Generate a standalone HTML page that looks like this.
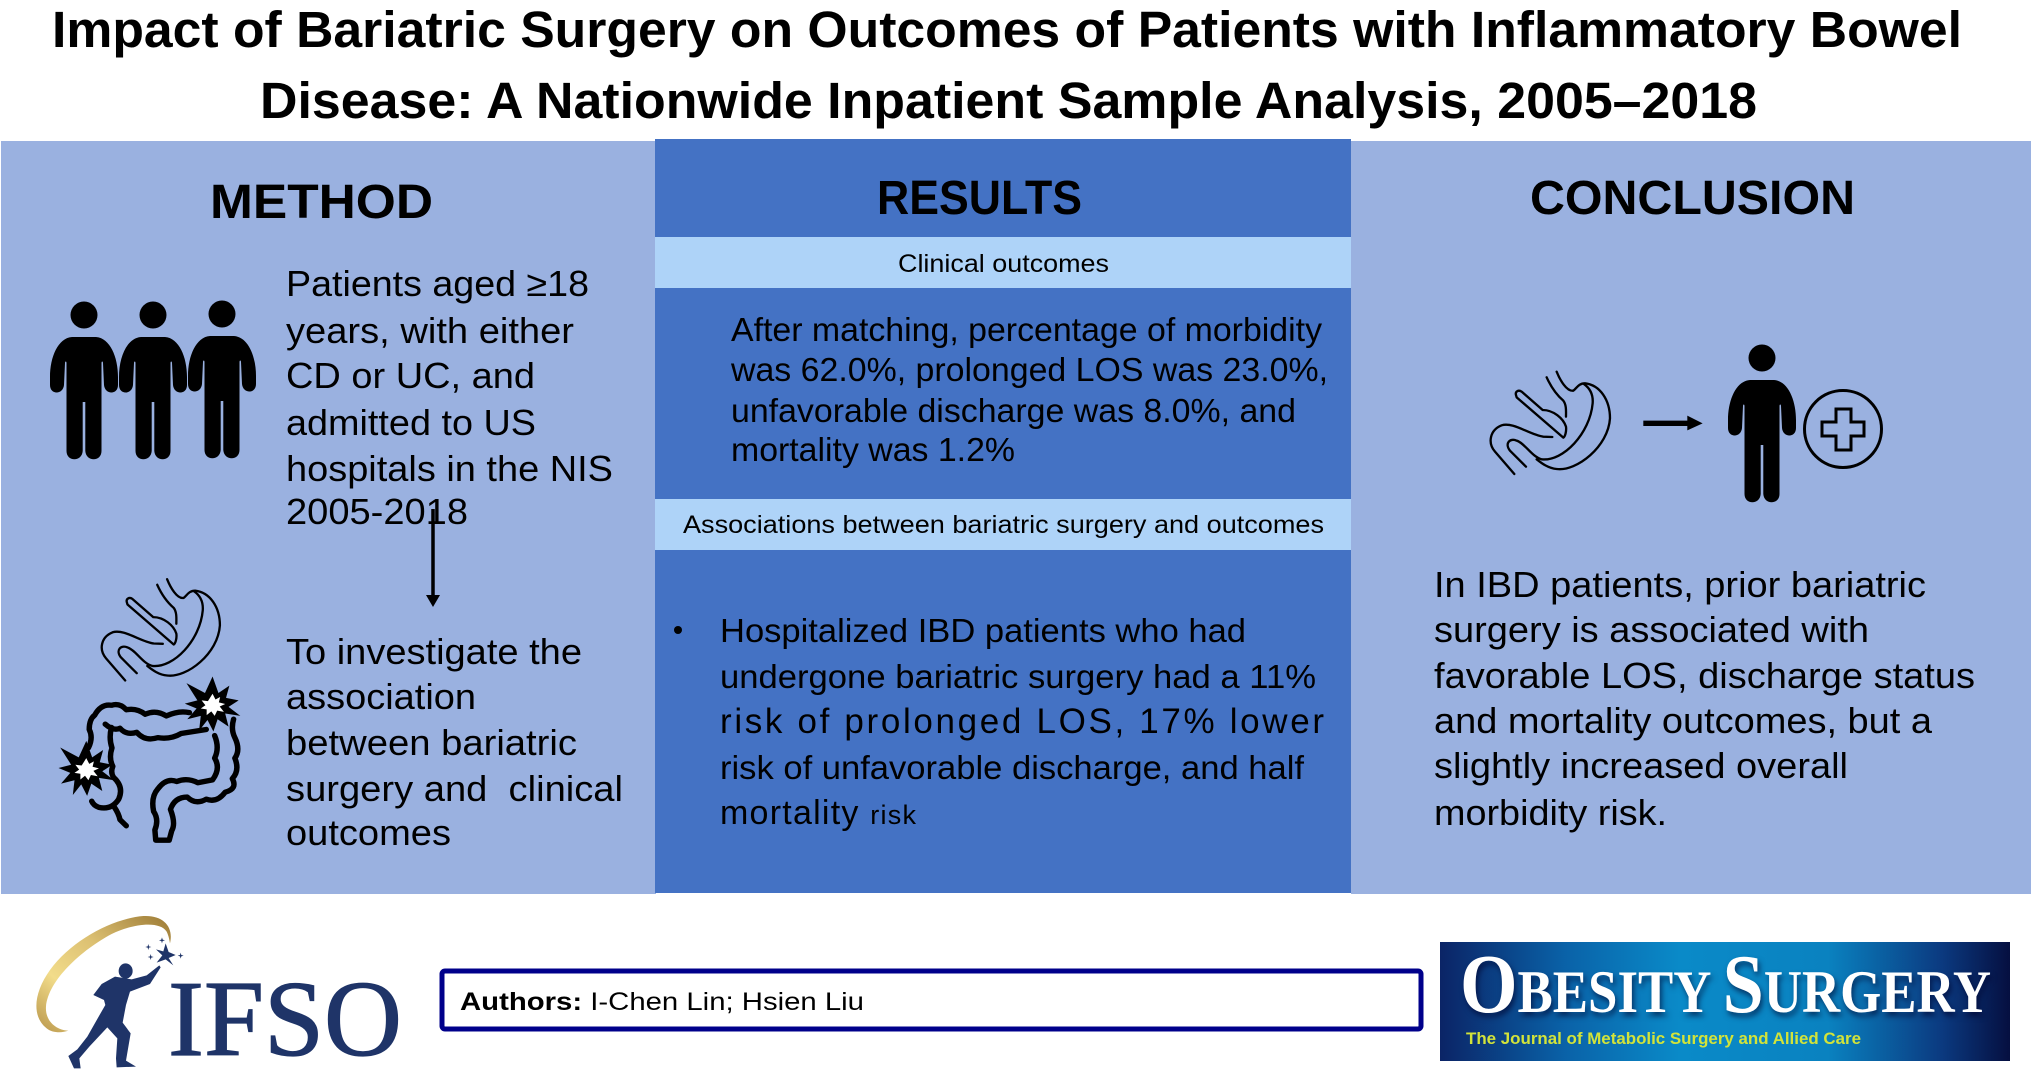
<!DOCTYPE html>
<html lang="en"><head><meta charset="utf-8"><title>Bariatric Surgery and IBD Outcomes</title>
<style>
html,body{margin:0;padding:0;background:#fff;width:2031px;height:1072px;overflow:hidden}
svg{display:block}
text{font-family:"Liberation Sans",sans-serif;fill:#000}
.t{font-weight:700;font-size:51px}
.h{font-weight:700;font-size:48px}
.a{font-size:36px}
.c{font-size:33px}
.b{font-size:33px}
.s{font-size:25px}
.ic{fill:none;stroke:#000;stroke-linecap:round;stroke-linejoin:round}
</style></head><body>
<svg width="2031" height="1072" viewBox="0 0 2031 1072" xmlns="http://www.w3.org/2000/svg">
<defs>
<linearGradient id="gold" x1="0" y1="1" x2="1" y2="0"><stop offset="0" stop-color="#b8954a"/><stop offset=".3" stop-color="#f2dc8a"/><stop offset=".6" stop-color="#dcc072"/><stop offset="1" stop-color="#9c7a35"/></linearGradient>
<linearGradient id="journal" x1="0" y1="0" x2="1" y2="0"><stop offset="0" stop-color="#0b2466"/><stop offset=".22" stop-color="#0a62a8"/><stop offset=".42" stop-color="#0a8ac8"/><stop offset=".68" stop-color="#0a82c0"/><stop offset=".88" stop-color="#0b3a80"/><stop offset="1" stop-color="#050f40"/></linearGradient>
<g id="person">
<circle cx="0" cy="-22" r="13.5"/>
<path d="M-12,0 C-26,1 -34,20 -34,40 L-34,48 C-34,58 -21,58 -20,48 L-19,26 C-19,24 -17.5,24 -17.5,26 L-17.5,114 C-17.5,125 -2,125 -1.3,114 L-1.3,65 L1.3,65 L1.3,114 C2,125 17.5,125 17.5,114 L17.5,26 C17.5,24 19,24 19,26 L20,48 C21,58 34,58 34,48 L34,40 C34,20 26,1 12,0 Z"/>
</g>
<g id="stomach" class="ic" stroke-width="7">
<path d="M343,462 L285,395 C262,368 270,330 305,316 C340,305 390,345 430,350 L457,351"/>
<path d="M378,440 L330,392 C313,370 330,353 350,362 C375,370 395,410 425,418 C490,425 570,340 578,250 C580,225 570,205 552,192"/>
<path d="M470,155 C480,180 500,215 520,212 C530,205 535,190 555,190 C600,195 630,240 630,295 C625,380 530,455 470,447 C445,445 425,430 410,418"/>
<path d="M440,172 C455,205 470,225 490,242 C500,255 498,275 498,290"/>
<path d="M348,225 C345,215 355,208 365,215 L428,270 C460,270 490,295 498,320 C500,335 495,350 490,353 L350,232 Z"/>
</g>
<g id="burst">
<polygon fill="#000" points="0,-72 14,-32 40,-50 32,-20 62,-14 38,2 66,24 30,18 38,50 12,32 2,62 -12,34 -32,60 -28,24 -60,32 -38,6 -66,-6 -36,-14 -62,-56 -18,-32"/>
<polygon fill="#fff" points="0,-30 7,-16 18,-22 15,-9 30,-5 17,1 27,14 11,11 5,24 -3,13 -14,22 -14,8 -28,6 -17,-2 -26,-14 -11,-12"/>
</g>
<polygon id="star-small" fill="#1f3468" points="0,-9 2,-2 9,0 2,2 0,9 -2,2 -9,0 -2,-2"/>
</defs>

<rect width="2031" height="1072" fill="#fff"/>
<text class="t" x="52" y="47" textLength="1910" lengthAdjust="spacingAndGlyphs">Impact of Bariatric Surgery on Outcomes of Patients with Inflammatory Bowel</text>
<text class="t" x="260" y="118" textLength="1497" lengthAdjust="spacingAndGlyphs">Disease: A Nationwide Inpatient Sample Analysis, 2005–2018</text>

<rect x="1" y="141" width="655" height="753" fill="#9ab1e0"/>
<rect x="1351" y="141" width="680" height="753" fill="#9ab1e0"/>
<rect x="655" y="139" width="696" height="754" fill="#4472c4"/>
<rect x="655" y="237" width="696" height="51" fill="#aed3f8"/>
<rect x="655" y="499" width="696" height="51" fill="#aed3f8"/>

<text class="h" x="210" y="218" textLength="223" lengthAdjust="spacingAndGlyphs">METHOD</text>
<text class="h" x="877" y="214" textLength="205" lengthAdjust="spacingAndGlyphs">RESULTS</text>
<text class="h" x="1530" y="214" textLength="325" lengthAdjust="spacingAndGlyphs">CONCLUSION</text>

<g>
<text class="a" x="286" y="296" textLength="303" lengthAdjust="spacingAndGlyphs">Patients aged ≥18</text>
<text class="a" x="286" y="343" textLength="288" lengthAdjust="spacingAndGlyphs">years, with either</text>
<text class="a" x="286" y="388" textLength="249" lengthAdjust="spacingAndGlyphs">CD or UC, and</text>
<text class="a" x="286" y="435" textLength="250" lengthAdjust="spacingAndGlyphs">admitted to US</text>
<text class="a" x="286" y="481" textLength="327" lengthAdjust="spacingAndGlyphs">hospitals in the NIS</text>
<text class="a" x="286" y="524" textLength="182" lengthAdjust="spacingAndGlyphs">2005-2018</text>
</g>
<g>
<text class="a" x="286" y="664" textLength="296" lengthAdjust="spacingAndGlyphs">To investigate the</text>
<text class="a" x="286" y="709" textLength="190" lengthAdjust="spacingAndGlyphs">association</text>
<text class="a" x="286" y="755" textLength="291" lengthAdjust="spacingAndGlyphs">between bariatric</text>
<text class="a" x="286" y="801" textLength="337" lengthAdjust="spacingAndGlyphs" xml:space="preserve">surgery and  clinical</text>
<text class="a" x="286" y="845" textLength="165" lengthAdjust="spacingAndGlyphs">outcomes</text>
</g>

<g fill="#000">
<use href="#person" transform="translate(84,337)"/>
<use href="#person" transform="translate(153,337)"/>
<use href="#person" transform="translate(222,336)"/>
</g>

<g>
<line x1="433" y1="509" x2="433" y2="597" stroke="#000" stroke-width="3.5"/>
<polygon points="426,595 440,595 433,607" fill="#000"/>
</g>

<g transform="translate(12,528) scale(.33)">
<use href="#stomach"/>
</g>

<g transform="translate(0,260) scale(.4209,.41)">
<g class="ic" stroke-width="13">
<path d="M210,1190 Q222,1165 212,1145 Q212,1120 225,1110 Q240,1082 265,1086 Q285,1080 300,1097 Q325,1092 345,1108 Q370,1096 395,1112 Q425,1098 450,1104"/>
<path d="M250,1132 Q270,1150 285,1142 Q300,1160 325,1152 Q345,1175 375,1165 Q405,1170 430,1155 L490,1145"/>
<path d="M555,1120 Q548,1145 558,1165 Q572,1195 558,1215 Q570,1245 552,1265 Q565,1290 535,1298 Q515,1325 490,1315 Q465,1330 445,1310 Q415,1310 405,1340 Q418,1375 408,1392 L402,1415 L370,1415 L368,1390 Q378,1365 365,1345 Q358,1310 375,1290 Q395,1262 420,1272 Q445,1262 470,1275 L505,1268 Q525,1240 510,1215 Q522,1190 510,1160"/>
<path d="M265,1140 Q258,1165 266,1190 Q258,1215 268,1235 Q262,1250 270,1262 Q295,1285 282,1315 Q265,1342 235,1335 Q222,1330 218,1320"/>
<path d="M272,1335 Q282,1350 285,1365 L300,1380"/>
</g>
<use href="#burst" transform="translate(505,1088)"/>
<use href="#burst" transform="translate(205,1245)"/>
</g>

<text class="s" x="898" y="272" textLength="211" lengthAdjust="spacingAndGlyphs">Clinical outcomes</text>
<g>
<text class="c" x="731" y="341" textLength="591" lengthAdjust="spacingAndGlyphs">After matching, percentage of morbidity</text>
<text class="c" x="731" y="381" textLength="597" lengthAdjust="spacingAndGlyphs">was 62.0%, prolonged LOS was 23.0%,</text>
<text class="c" x="731" y="422" textLength="565" lengthAdjust="spacingAndGlyphs">unfavorable discharge was 8.0%, and</text>
<text class="c" x="731" y="461" textLength="284" lengthAdjust="spacingAndGlyphs">mortality was 1.2%</text>
</g>
<text class="s" x="683" y="533" textLength="641" lengthAdjust="spacingAndGlyphs">Associations between bariatric surgery and outcomes</text>
<g>
<circle cx="678" cy="630" r="4" fill="#000"/>
<text class="b" x="720" y="642" textLength="526" lengthAdjust="spacingAndGlyphs">Hospitalized IBD patients who had</text>
<text class="b" x="720" y="688" textLength="596" lengthAdjust="spacingAndGlyphs">undergone bariatric surgery had a 11%</text>
<text class="b" x="720" y="733" textLength="604" lengthAdjust="spacing" style="font-size:35px">risk of prolonged LOS, 17% lower</text>
<text class="b" x="720" y="779" textLength="584" lengthAdjust="spacingAndGlyphs">risk of unfavorable discharge, and half</text>
<text class="b" x="720" y="824" textLength="196" lengthAdjust="spacing" style="font-size:34px">mortality <tspan font-size="27">risk</tspan></text>
</g>

<g transform="translate(1400,320) scale(.3333)">
<use href="#stomach"/>
<path d="M730,310 H865" stroke="#000" stroke-width="16" fill="none"/>
<polygon points="862,287 908,310 862,331" fill="#000"/>
</g>
<g fill="#000">
<use href="#person" transform="translate(1762,380)"/>
</g>
<g fill="none" stroke="#000" stroke-width="3">
<circle cx="1843" cy="429" r="38.5"/>
<path d="M1836,409 H1851 V422 H1864 V436 H1851 V450 H1836 V436 H1822 V422 H1836 Z"/>
</g>
<g>
<text class="a" x="1434" y="597" textLength="492" lengthAdjust="spacingAndGlyphs">In IBD patients, prior bariatric</text>
<text class="a" x="1434" y="642" textLength="435" lengthAdjust="spacingAndGlyphs">surgery is associated with</text>
<text class="a" x="1434" y="688" textLength="541" lengthAdjust="spacingAndGlyphs">favorable LOS, discharge status</text>
<text class="a" x="1434" y="733" textLength="498" lengthAdjust="spacingAndGlyphs">and mortality outcomes, but a</text>
<text class="a" x="1434" y="778" textLength="414" lengthAdjust="spacingAndGlyphs">slightly increased overall</text>
<text class="a" x="1434" y="825" textLength="233" lengthAdjust="spacingAndGlyphs">morbidity risk.</text>
</g>

<g>
<g transform="translate(0,890) scale(.3333)">
<path fill="url(#gold)" d="M510,160 C522,110 490,75 430,78 C340,85 215,150 150,240 C100,310 95,380 140,415 C155,428 185,430 205,422 C165,420 135,390 138,350 C145,270 245,180 335,132 C400,100 480,92 500,125 C507,140 508,150 510,160 Z"/>
<g fill="#1f3468">
<ellipse cx="377" cy="243" rx="21" ry="23"/>
<path d="M482,232 L478,226 L440,256 L395,268 L345,260 L305,282 L280,315 L312,330 L316,345 L296,380 L262,440 L232,478 L205,498 L222,535 L242,535 L238,505 L268,470 L322,412 L352,445 L348,505 L350,532 L408,530 L378,512 L392,430 L368,398 L378,345 L390,305 L450,282 Z"/>
</g>
<g>
<polygon fill="#1f3468" points="497,160 506,186 527,195 506,204 520,226 497,208 470,218 487,196 468,178 490,184"/>
<use href="#star-small" x="445" y="171"/>
<use href="#star-small" x="486" y="151"/>
<use href="#star-small" x="452" y="201"/>
<use href="#star-small" x="542" y="197"/>
</g>
</g>
<text x="168" y="1055" textLength="234" lengthAdjust="spacingAndGlyphs" style="font-family:'Liberation Serif',serif;font-size:108px;fill:#1f3468;stroke:#1f3468;stroke-width:1.2">IFSO</text>
</g>

<rect x="442" y="971" width="979" height="58" rx="3" fill="#fff" stroke="#00008b" stroke-width="5"/>
<text class="s" x="460" y="1010" textLength="404" lengthAdjust="spacingAndGlyphs"><tspan font-weight="700">Authors:</tspan> I-Chen Lin; Hsien Liu</text>

<g>
<rect x="1440" y="942" width="570" height="119" fill="url(#journal)"/>
<text x="1460" y="1012" textLength="531" lengthAdjust="spacingAndGlyphs" style="font-family:'Liberation Serif',serif;font-weight:700;font-size:60px;fill:#fff;filter:drop-shadow(2px 4px 3px rgba(0,0,40,.6))"><tspan font-size="84">O</tspan>BESITY <tspan font-size="84">S</tspan>URGERY</text>
<text x="1466" y="1044" textLength="395" lengthAdjust="spacingAndGlyphs" style="font-weight:700;font-size:17px;fill:#d2e33a">The Journal of Metabolic Surgery and Allied Care</text>
</g>
</svg>
</body></html>
